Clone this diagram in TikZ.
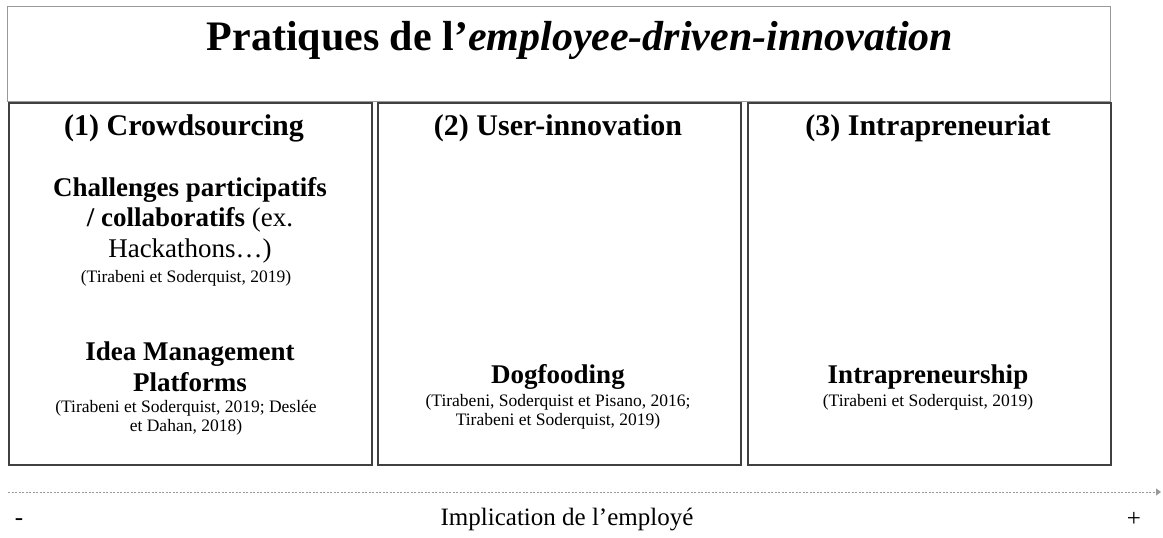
\documentclass[tikz,border=0pt]{standalone}
\usepackage{fontspec}
\setmainfont{Liberation Serif}
\usetikzlibrary{positioning,arrows.meta}

\begin{document}
\begin{tikzpicture}[x=1pt,y=-1pt,
	cadre/.style={draw=black!75,line width=1.5pt,minimum width=363pt,minimum height=362pt,anchor=north west},
	entete/.style={font=\bfseries\fontsize{30}{34}\selectfont},
	pratique/.style={align=center,font=\bfseries\fontsize{27}{30.5}\selectfont},
	source/.style={align=center,font=\fontsize{17.5}{19}\selectfont}]
	\useasboundingbox (0,0) rectangle (1163,538);
	
	% titre
	\node[draw=black!40,line width=1.3pt,minimum width=1103pt,minimum height=95pt,anchor=north west](T) at (7,6) {};
	\node[font=\bfseries\fontsize{42}{46}\selectfont](titre) at (580,40) {Pratiques de l’\textit{employee-driven-innovation}};
	
	% les trois colonnes
	\foreach \x [count=\n] in {8,377,747}
		\node[cadre](B\n) at (\x,102) {};
	
	\node[entete](H1) at (184,128) {(1) Crowdsourcing};
	\node[entete](H2) at (558,128) {(2) User-innovation};
	\node[entete](H3) at (928,128) {(3) Intrapreneuriat};
	
	\node[pratique](P1) at (190,220) {Challenges participatifs\\/ collaboratifs \mdseries(ex.\\\mdseries Hackathons…)};
	\node[source](S1) at (186,278) {(Tirabeni et Soderquist, 2019)};
	
	\node[pratique](P2) at (190,367) {Idea Management\\Platforms};
	\node[source](S2) at (186,418) {(Tirabeni et Soderquist, 2019; Deslée\\et Dahan, 2018)};
	
	\node[pratique](P3) at (558,377) {Dogfooding};
	\node[source](S3) at (558,412) {(Tirabeni, Soderquist et Pisano, 2016;\\Tirabeni et Soderquist, 2019)};
	
	\node[pratique](P4) at (928,377) {Intrapreneurship};
	\node[source](S4) at (928,402) {(Tirabeni et Soderquist, 2019)};
	
	% axe
	\coordinate (g) at (8,492);
	\coordinate (d) at (1161,492);
	\draw[black!40,line width=0.9pt,dash pattern=on 2pt off 1.5pt,-{Triangle[length=5pt,width=7pt]}] (g) -- (d);
	
	\node[font=\fontsize{25}{28}\selectfont](moins) at (19,522) {-};
	\node[font=\fontsize{25}{28}\selectfont](axe) at (567,520) {Implication de l’employé};
	\node[font=\fontsize{25}{28}\selectfont](plus) at (1134,519) {+};
\end{tikzpicture}
\end{document}
